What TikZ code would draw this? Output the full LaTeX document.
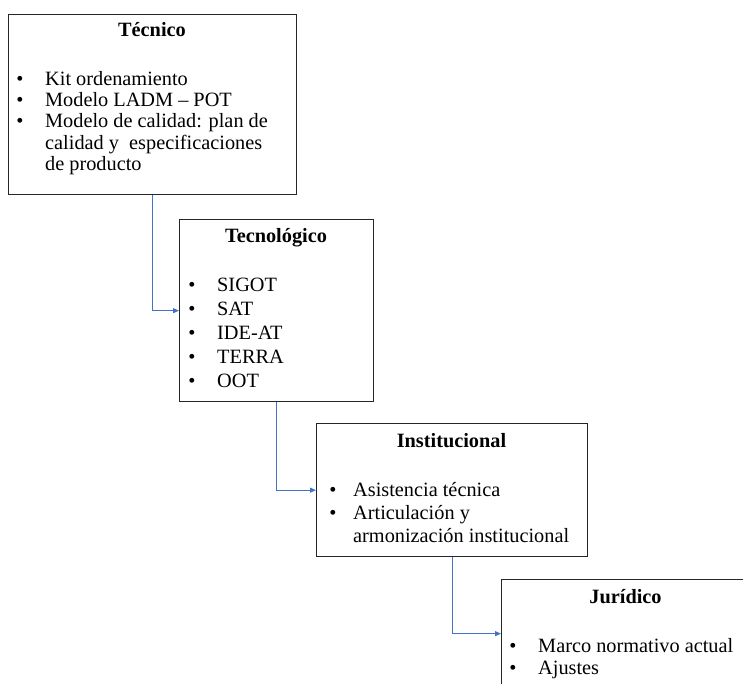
\documentclass[tikz,border=0pt]{standalone}
\usepackage{fontspec}
\setmainfont{Liberation Serif}
\usetikzlibrary{arrows.meta}
\definecolor{linkblue}{HTML}{4472C4}
\begin{document}
\begin{tikzpicture}[x=1pt,y=-1pt,
  box/.style={draw=black!85, line width=1.3pt, inner sep=0pt, anchor=north west},
  title/.style={font=\fontsize{20.3}{22}\selectfont\bfseries, anchor=base, inner sep=0pt},
  item/.style={font=\fontsize{20.3}{22}\selectfont, anchor=base west, inner sep=0pt},
  dot/.style={font=\fontsize{20.3}{22}\selectfont, anchor=base, inner sep=0pt},
  conn/.style={draw=linkblue, line width=1pt, -{Triangle[length=6pt,width=5pt]}}]
\useasboundingbox (0,0) rectangle (743,684);
\clip (0,0) rectangle (743,684);

% boxes
\node[box, minimum width=288pt, minimum height=180pt] (b1) at (8,14) {};
\node[box, minimum width=194pt, minimum height=182pt] (b2) at (179,219) {};
\node[box, minimum width=271pt, minimum height=133pt] (b3) at (316,423) {};
\node[box, minimum width=249pt, minimum height=108pt] (b4) at (501,579) {};

% titles
\node[title] (h1) at (152,37) {Técnico};
\node[title] (h2) at (276,243) {Tecnológico};
\node[title] (h3) at (451.5,447) {Institucional};
\node[title] (h4) at (625.5,603) {Jurídico};

% Técnico items
\node[dot] (d11) at (20,86) {•};
\node[dot] (d12) at (20,107) {•};
\node[dot] (d13) at (20,128) {•};
\node[item] (i11) at (45,86) {Kit ordenamiento};
\node[item] (i12) at (45,107) {Modelo LADM – POT};
\node[item] (i13) at (45,128) {Modelo de calidad: plan de};
\node[item] (i14) at (45,150) {calidad y\ \ especificaciones};
\node[item] (i15) at (45,171) {de producto};

% Tecnológico items
\foreach \n/\y/\t in {1/291/SIGOT,2/315/SAT,3/339/IDE-AT,4/363/TERRA,5/387/OOT}{
  \node[dot] (d2\n) at (192,\y) {•};
  \node[item] (i2\n) at (217,\y) {\t};
}

% Institucional items
\node[dot] (d31) at (333,496) {•};
\node[dot] (d32) at (333,519) {•};
\node[item] (i31) at (353,496) {Asistencia técnica};
\node[item] (i32) at (353,519) {Articulación y};
\node[item] (i33) at (353,542) {armonización institucional};

% Jurídico items
\node[dot] (d41) at (513,652) {•};
\node[dot] (d42) at (513,674) {•};
\node[item] (i41) at (538,652) {Marco normativo actual};
\node[item] (i42) at (538,674) {Ajustes};

% connectors
\draw[conn] (b1.south) |- (b2.west);
\draw[conn] (b2.south) |- (b3.west);
\draw[conn] (b3.south) |- (b4.west);
\end{tikzpicture}
\end{document}
